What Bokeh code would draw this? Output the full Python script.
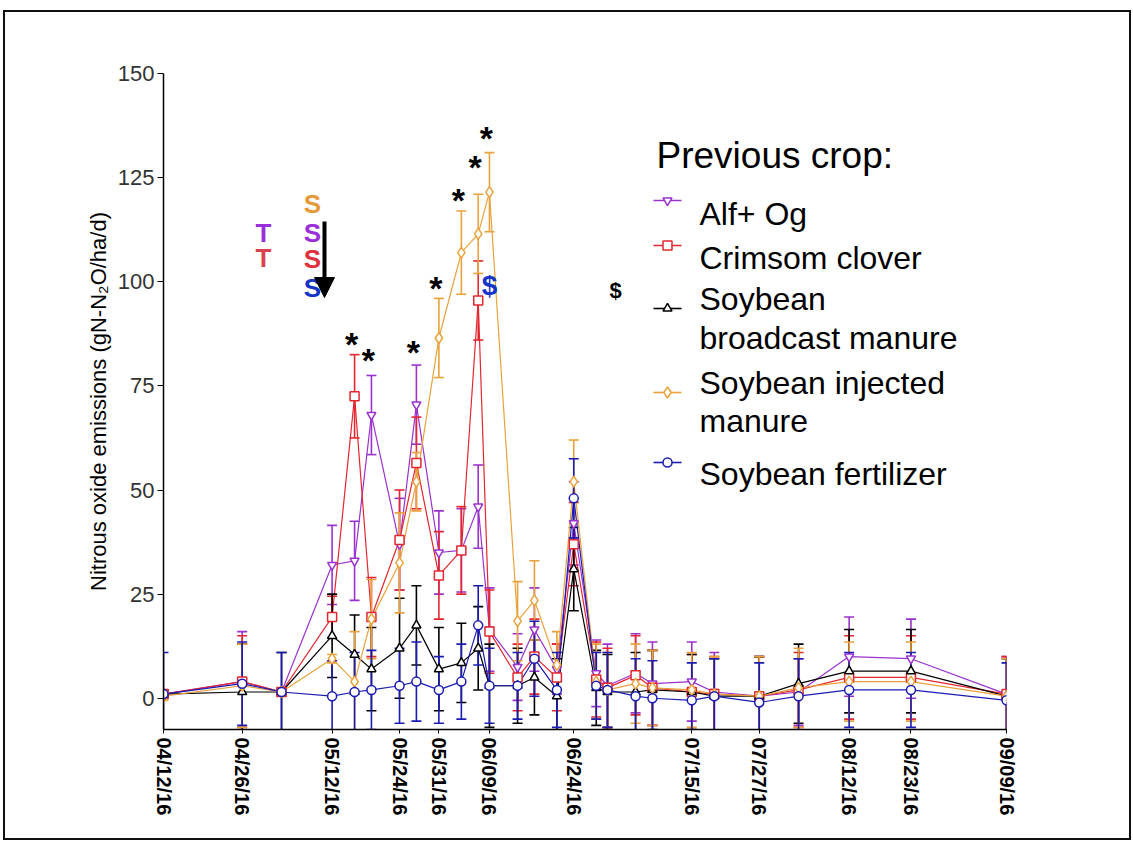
import pandas as pd
from bokeh.plotting import figure
from bokeh.models import Range1d, FixedTicker, Arrow, NormalHead
from bokeh.core.properties import value
from bokeh.embed import file_html
from bokeh.resources import INLINE

# ---------------- data ----------------
dates = ["04/12/16", "04/26/16", "05/03/16", "05/12/16", "05/16/16", "05/19/16",
         "05/24/16", "05/27/16", "05/31/16", "06/04/16", "06/07/16", "06/09/16",
         "06/14/16", "06/17/16", "06/21/16", "06/24/16", "06/28/16", "06/30/16",
         "07/05/16", "07/08/16", "07/15/16", "07/19/16", "07/27/16", "08/03/16",
         "08/12/16", "08/23/16", "09/09/16"]

tick_dates = ["04/12/16", "04/26/16", "05/12/16", "05/24/16", "05/31/16", "06/09/16",
              "06/24/16", "07/15/16", "07/27/16", "08/12/16", "08/23/16", "09/09/16"]

alf_og = [1.0, 4.0, 1.5, 32.0, 33.0, 68.0, 37.0, 70.5, 35.0, 35.5, 46.0, 16.5,
          7.5, 16.5, 7.0, 42.0, 6.0, 3.0, 6.0, 3.5, 4.0, 1.5, 0.5, 1.5, 10.0, 9.5, 1.0]
alf_og_se = [1.0, 12.0, 1.0, 9.5, 9.5, 9.5, 11.0, 9.5, 10.0, 10.0, 10.0, 10.0,
             8.0, 10.0, 6.0, 10.0, 8.0, 10.0, 9.5, 10.0, 9.5, 9.5, 9.5, 8.0, 9.5, 9.5, 9.0]

crimson = [1.0, 4.0, 1.5, 19.5, 72.5, 19.5, 38.0, 56.5, 29.5, 35.5, 95.5, 16.0,
           5.0, 10.0, 5.0, 37.0, 4.5, 2.5, 5.5, 2.5, 1.5, 1.0, 0.5, 2.0, 5.0, 5.0, 1.0]
crimson_se = [1.0, 11.0, 1.0, 5.0, 10.0, 9.5, 12.0, 11.0, 10.5, 10.5, 9.5, 10.0,
              8.0, 9.0, 8.0, 10.0, 9.0, 9.5, 9.5, 9.0, 9.0, 9.0, 9.5, 9.0, 10.0, 10.0, 9.0]

broadcast = [1.0, 1.5, 1.5, 15.0, 10.5, 7.0, 12.0, 17.5, 7.0, 8.5, 12.0, 3.0,
             3.0, 5.0, 0.5, 31.0, 2.5, 1.5, 1.5, 2.0, 1.5, 0.5, 0.5, 3.5, 6.5, 6.5, 0.5]
broadcast_se = [1.0, 11.5, 9.5, 10.0, 9.5, 10.0, 12.0, 9.5, 10.0, 9.5, 10.0, 10.0,
                9.0, 9.0, 9.0, 10.0, 9.0, 9.0, 9.5, 9.5, 9.0, 9.0, 9.5, 9.5, 10.0, 10.0, 9.0]

injected = [0.5, 3.0, 1.5, 9.5, 4.0, 19.0, 32.5, 52.0, 86.5, 107.0, 111.5, 121.5,
            18.5, 23.5, 8.0, 52.0, 4.0, 2.0, 3.5, 2.5, 2.0, 1.0, 0.5, 2.5, 4.0, 4.0, 0.5]
injected_se = [1.0, 10.0, 1.0, 1.0, 12.0, 9.5, 12.0, 7.0, 9.5, 10.0, 9.5, 9.5,
               9.5, 9.5, 8.0, 10.0, 9.0, 9.0, 9.5, 9.0, 9.0, 9.0, 9.5, 9.5, 9.5, 9.5, 9.0]

fertilizer = [1.0, 3.5, 1.5, 0.5, 1.5, 2.0, 3.0, 4.0, 2.0, 4.0, 17.5, 3.0,
              3.0, 9.5, 2.0, 48.0, 3.0, 2.0, 0.5, 0.0, -0.5, 0.5, -1.0, 0.5, 2.0, 2.0, -0.5]
fertilizer_se = [10.0, 10.0, 9.5, 8.5, 9.5, 9.5, 9.0, 9.5, 8.0, 9.0, 9.5, 9.0,
                 8.0, 9.0, 9.0, 9.5, 8.0, 9.0, 9.0, 9.0, 9.0, 9.0, 9.5, 9.0, 9.0, 9.0, 9.0]

series_names = ["Alf+ Og", "Crimsom clover", "Soybean\nbroadcast manure",
                "Soybean injected\nmanure", "Soybean fertilizer"]

# significance marks
star_dates = ["05/16/16", "05/19/16", "05/27/16", "05/31/16", "06/04/16", "06/07/16", "06/09/16"]
star_values = [87.5, 83.5, 85.5, 101.0, 122.0, 130.0, 137.0]

# ---------------- helpers ----------------
start = pd.to_datetime(dates[0], format="%m/%d/%y")


def day_of(d):
    return int((pd.to_datetime(d, format="%m/%d/%y") - start).days)


days = [day_of(d) for d in dates]
tick_days = [day_of(d) for d in tick_dates]
star_days = [day_of(d) for d in star_dates]

FONT = "Liberation Sans"

# page geometry (figure placed with css margin + border)
M_LEFT, M_TOP, BORDER = 3, 10, 2
FRAME_L, FRAME_T, FRAME_W, FRAME_H = 158, 61, 843, 656
FIG_W, FIG_H = 1124, 826
X0, X1, Y0, Y1 = 0.0, 150.0, -7.5, 150.0


def dx(px):  # page px -> data x
    return X0 + (px - M_LEFT - BORDER - FRAME_L) / FRAME_W * (X1 - X0)


def dy(py):  # page px -> data y
    return Y1 - (py - M_TOP - BORDER - FRAME_T) / FRAME_H * (Y1 - Y0)


p = figure(frame_width=FRAME_W, frame_height=FRAME_H,
           min_border_left=FRAME_L, min_border_top=FRAME_T,
           min_border_right=FIG_W - FRAME_L - FRAME_W,
           min_border_bottom=FIG_H - FRAME_T - FRAME_H,
           x_range=Range1d(X0, X1), y_range=Range1d(Y0, Y1),
           output_backend="svg", toolbar_location=None,
           background_fill_color="white", border_fill_color="white")
p.styles = {"border": "%dpx solid #111" % BORDER, "margin-left": "%dpx" % M_LEFT,
            "margin-top": "%dpx" % M_TOP}
p.grid.visible = False
p.outline_line_color = None

colors = ["#9A32CD", "#E3262F", "#000000", "#E9A23B", "#1B1BB3"]
markers = ["inverted_triangle", "square", "triangle", "diamond", "circle"]
vals = [alf_og, crimson, broadcast, injected, fertilizer]
errs = [alf_og_se, crimson_se, broadcast_se, injected_se, fertilizer_se]

for c, m, v, e in zip(colors, markers, vals, errs):
    up = [a + b for a, b in zip(v, e)]
    lo = [a - b for a, b in zip(v, e)]
    p.line(days, v, line_color=c, line_width=1.2)
    p.segment(days, lo, days, up, line_color=c, line_width=1.6)
    p.scatter(days, up, marker="dash", size=10, line_color=c, line_width=1.6)
    p.scatter(days, lo, marker="dash", size=10, line_color=c, line_width=1.6)

for c, m, v in zip(colors, markers, vals):
    sz = 11 if m == "diamond" else 9
    p.scatter(days, v, marker=m, size=sz, line_color=c, fill_color="white", line_width=1.5)

# asterisks
p.text(star_days, star_values, text=["*"] * len(star_days), text_align="center",
       text_baseline="middle", text_font=value(FONT), text_font_size="34px",
       text_font_style="bold", text_color="black", y_offset=10, x_offset=-3)

# $ marks
p.text([day_of("06/09/16")], [99.0], text=["$"], text_align="center", text_baseline="middle",
       text_font=value(FONT), text_font_size="28px", text_font_style="bold", text_color="#1535C8")
p.text([dx(615)], [dy(290)], text=["$"], text_align="center", text_baseline="middle",
       text_font=value(FONT), text_font_size="22px", text_font_style="bold", text_color="black")

# T / S letters
ts_x = [dx(263), dx(263), dx(312), dx(312), dx(312), dx(312)]
ts_y = [dy(232), dy(257), dy(203), dy(232), dy(258), dy(287)]
ts_t = ["T", "T", "S", "S", "S", "S"]
ts_c = ["#9B30D9", "#D9414E", "#E59A3A", "#9B30D9", "#E0313F", "#1535C8"]
p.text(ts_x, ts_y, text=ts_t, text_color=ts_c, text_align="center", text_baseline="middle",
       text_font=value(FONT), text_font_size="26px", text_font_style="bold")

p.add_layout(Arrow(x_start=dx(324), y_start=dy(221), x_end=dx(324), y_end=dy(297),
                   line_width=4, line_color="black",
                   end=NormalHead(size=20, fill_color="black", line_color="black")))

# legend block
p.text([dx(656)], [dy(155)], text=["Previous crop:"], text_align="left",
       text_baseline="alphabetic", text_font=value(FONT), text_font_size="37px", text_color="black")
sample_y = [200, 245, 308, 392, 462]
label_base = [[213], [257], [298, 337], [382, 420], [473]]
for c, m, name, sy, bases in zip(colors, markers, series_names, sample_y, label_base):
    p.line([dx(653), dx(681)], [dy(sy), dy(sy)], line_color=c, line_width=1.6)
    sz = 11 if m == "diamond" else 9
    p.scatter([dx(667)], [dy(sy)], marker=m, size=sz, line_color=c, fill_color="white", line_width=1.5)
    lines = name.split("\n")
    p.text([dx(699)] * len(lines), [dy(b) for b in bases], text=lines, text_align="left",
           text_baseline="alphabetic", text_font=value(FONT), text_font_size="32px",
           text_color="black")

# axes
p.yaxis.ticker = FixedTicker(ticks=[0, 25, 50, 75, 100, 125, 150])
p.yaxis.minor_tick_line_color = None
p.yaxis.major_tick_out = 6
p.yaxis.major_tick_in = 0
p.yaxis.major_label_text_font = FONT
p.yaxis.major_label_text_font_size = "22px"
p.yaxis.major_label_text_color = "#333333"
p.yaxis.major_label_standoff = 3
p.yaxis.axis_label = "Nitrous oxide emissions (gN-N\u2082O/ha/d)"
p.yaxis.axis_label_text_font = FONT
p.yaxis.axis_label_text_font_size = "22px"
p.yaxis.axis_label_text_font_style = "normal"
p.yaxis.axis_label_text_color = "black"
p.yaxis.axis_label_standoff = 4
p.yaxis.axis_line_color = "black"
p.yaxis.axis_line_width = 1.5

p.xaxis.ticker = FixedTicker(ticks=tick_days)
p.xaxis.major_label_overrides = {d: t for d, t in zip(tick_days, tick_dates)}
p.xaxis.major_label_orientation = "vertical"
p.xaxis.minor_tick_line_color = None
p.xaxis.major_tick_out = 4
p.xaxis.major_tick_in = 0
p.xaxis.major_label_text_font = FONT
p.xaxis.major_label_text_font_size = "20px"
p.xaxis.major_label_text_font_style = "bold"
p.xaxis.major_label_text_color = "black"
p.xaxis.major_label_standoff = 4
p.xaxis.axis_line_color = "black"
p.xaxis.axis_line_width = 1.5

open("out.html", "w").write(file_html(p, INLINE))
